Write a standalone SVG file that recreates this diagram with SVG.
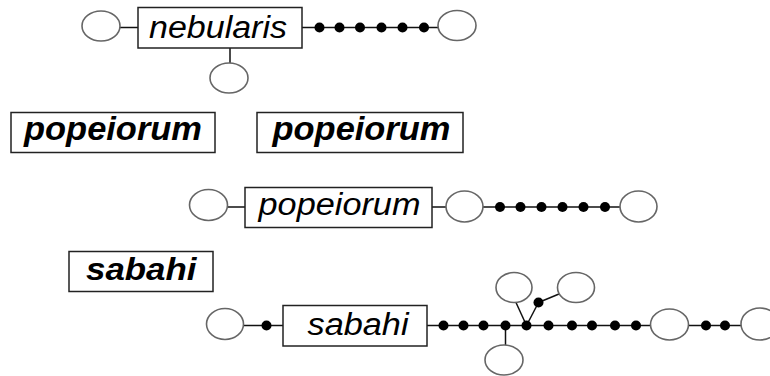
<svg xmlns="http://www.w3.org/2000/svg" width="770" height="376" viewBox="0 0 770 376">
<style>
.bg{fill:#fff}
.box{fill:#fff;stroke:#222;stroke-width:1.5}
.hap{fill:#fff;stroke:#666;stroke-width:1.6}
.dot{fill:#000}
.ln{stroke:#111;stroke-width:1.5;fill:none}
.t{font-family:"Liberation Sans",Arial,sans-serif;font-style:italic;fill:#000}
.b{font-weight:bold}
</style>
<rect class="bg" x="0" y="0" width="770" height="376"/>
<g id="connectors">
  <line class="ln" x1="120" y1="27.5" x2="138" y2="27.5"/>
  <line class="ln" x1="302" y1="27.5" x2="438" y2="27.5"/>
  <line class="ln" x1="230" y1="48" x2="230" y2="63"/>
  <line class="ln" x1="227.5" y1="207" x2="245" y2="207"/>
  <line class="ln" x1="432" y1="207" x2="446" y2="207"/>
  <line class="ln" x1="482.5" y1="207" x2="620" y2="207"/>
  <line class="ln" x1="243.5" y1="325.5" x2="283" y2="325.5"/>
  <line class="ln" x1="427" y1="325.5" x2="650.5" y2="325.5"/>
  <line class="ln" x1="688.5" y1="325.5" x2="741" y2="325.5"/>
  <line class="ln" x1="505.5" y1="325.5" x2="505.5" y2="345"/>
  <line class="ln" x1="526.5" y1="325.5" x2="516" y2="302.5"/>
  <line class="ln" x1="526.5" y1="325.5" x2="538.5" y2="302.5"/>
  <line class="ln" x1="538.5" y1="302.5" x2="559" y2="294"/>
</g>
<g id="nebularis">
  <rect class="box" x="138" y="7.5" width="164" height="40.5"/>
  <text class="t" x="149" y="38" font-size="31" textLength="138" lengthAdjust="spacingAndGlyphs">nebularis</text>
</g>
<g id="neb-haps">
  <ellipse class="hap" cx="101" cy="26" rx="19" ry="15"/>
  <ellipse class="hap" cx="229" cy="78" rx="19" ry="15"/>
  <ellipse class="hap" cx="457" cy="25.5" rx="19" ry="15"/>
  <circle class="dot" cx="319.5" cy="27.5" r="5"/>
  <circle class="dot" cx="339.5" cy="27.5" r="5"/>
  <circle class="dot" cx="360" cy="27.5" r="5"/>
  <circle class="dot" cx="381.5" cy="27.5" r="5"/>
  <circle class="dot" cx="402.5" cy="27.5" r="5"/>
  <circle class="dot" cx="424" cy="27.5" r="5"/>
</g>
<g id="popeiorum-label-1">
  <rect class="box" x="11" y="112.5" width="204" height="40"/>
  <text class="t b" x="24" y="140" font-size="33" textLength="178" lengthAdjust="spacingAndGlyphs">popeiorum</text>
</g>
<g id="popeiorum-label-2">
  <rect class="box" x="257" y="112.5" width="206" height="40"/>
  <text class="t b" x="272.5" y="140" font-size="33" textLength="178" lengthAdjust="spacingAndGlyphs">popeiorum</text>
</g>
<g id="popeiorum">
  <rect class="box" x="245" y="187.5" width="187" height="40"/>
  <text class="t" x="258.5" y="215" font-size="31" textLength="162" lengthAdjust="spacingAndGlyphs">popeiorum</text>
</g>
<g id="pop-haps">
  <ellipse class="hap" cx="208.5" cy="205" rx="19" ry="15.5"/>
  <ellipse class="hap" cx="464.5" cy="206.5" rx="18.5" ry="15.5"/>
  <ellipse class="hap" cx="638.5" cy="206.5" rx="18.5" ry="15.5"/>
  <circle class="dot" cx="500" cy="207" r="5"/>
  <circle class="dot" cx="520.5" cy="207" r="5"/>
  <circle class="dot" cx="541.5" cy="207" r="5"/>
  <circle class="dot" cx="562.5" cy="207" r="5"/>
  <circle class="dot" cx="583.5" cy="207" r="5"/>
  <circle class="dot" cx="605" cy="207" r="5"/>
</g>
<g id="sabahi-label">
  <rect class="box" x="69" y="251.5" width="144" height="40"/>
  <text class="t b" x="86" y="280" font-size="32" textLength="110.5" lengthAdjust="spacingAndGlyphs">sabahi</text>
</g>
<g id="sabahi">
  <rect class="box" x="283" y="305.5" width="144" height="40.5"/>
  <text class="t" x="307.5" y="334.5" font-size="31" textLength="101" lengthAdjust="spacingAndGlyphs">sabahi</text>
</g>
<g id="sab-haps">
  <ellipse class="hap" cx="225" cy="324" rx="18.5" ry="15.5"/>
  <ellipse class="hap" cx="504" cy="360" rx="19" ry="15"/>
  <ellipse class="hap" cx="514" cy="287.5" rx="18" ry="15"/>
  <ellipse class="hap" cx="576" cy="287.5" rx="18.5" ry="15"/>
  <ellipse class="hap" cx="669.5" cy="324.5" rx="19" ry="15.5"/>
  <ellipse class="hap" cx="760" cy="324" rx="19" ry="16"/>
  <circle class="dot" cx="266.5" cy="325.5" r="5"/>
  <circle class="dot" cx="443.5" cy="325.5" r="5"/>
  <circle class="dot" cx="463.5" cy="325.5" r="5"/>
  <circle class="dot" cx="483.5" cy="325.5" r="5"/>
  <circle class="dot" cx="505.5" cy="325.5" r="5"/>
  <circle class="dot" cx="526.5" cy="325.5" r="5"/>
  <circle class="dot" cx="548.5" cy="325.5" r="5"/>
  <circle class="dot" cx="572" cy="325.5" r="5"/>
  <circle class="dot" cx="592" cy="325.5" r="5"/>
  <circle class="dot" cx="615" cy="325.5" r="5"/>
  <circle class="dot" cx="636" cy="325.5" r="5"/>
  <circle class="dot" cx="538.5" cy="302.5" r="5"/>
  <circle class="dot" cx="706" cy="325.5" r="5"/>
  <circle class="dot" cx="725" cy="325.5" r="5"/>
</g>
</svg>
